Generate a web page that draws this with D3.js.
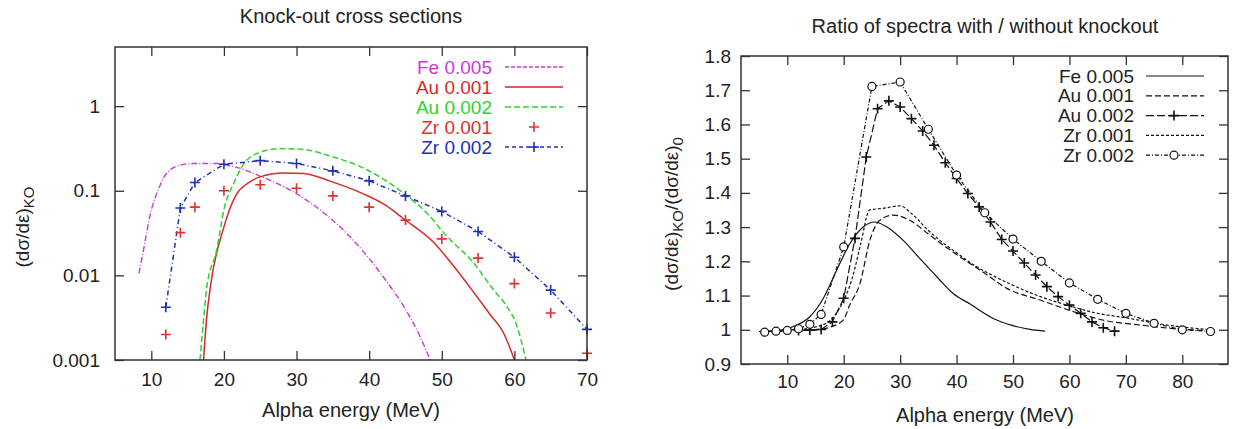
<!DOCTYPE html>
<html>
<head>
<meta charset="utf-8">
<script src="https://cdn.jsdelivr.net/npm/d3@7"></script>
<style>
  body { margin: 0; background: #fff; }
  svg text { font-family: "Liberation Sans", Arial, sans-serif; font-size: 19px; fill: #222; }
</style>
</head>
<body>
<div id="chart"></div>
<script>
// ---- left panel: knock-out cross sections (log y) ----
var koTicksX = [10, 20, 30, 40, 50, 60, 70];
var koTicksY = [0.001, 0.01, 0.1, 1];

var koFeX = [8.3, 9.1, 9.8, 11.1, 11.8, 13.9, 15.7, 19, 20.5, 22.2, 24.5, 29.3, 34.1, 35.5, 39.7, 42.4, 44.7, 47, 48.4];
var koFeY = [0.0105, 0.024, 0.05, 0.11, 0.148, 0.2, 0.21, 0.21, 0.2, 0.185, 0.155, 0.1, 0.052, 0.041, 0.017, 0.0085, 0.0044, 0.0019, 0.001];

var koAu1X = [17.2, 17.6, 18.2, 19.9, 21.7, 23.3, 24.9, 28.2, 31, 34.6, 39.2, 42.2, 44.7, 48.8, 51.6, 54.4, 56.7, 58.5, 60];
var koAu1Y = [0.001, 0.003, 0.008, 0.035, 0.09, 0.123, 0.145, 0.162, 0.16, 0.13, 0.092, 0.068, 0.047, 0.025, 0.013, 0.0063, 0.0034, 0.0021, 0.001];

var koAu2X = [16.7, 17.2, 17.6, 19, 20.1, 21.3, 22.6, 24.5, 27.7, 30.9, 34.6, 39.7, 42.4, 44.7, 47.9, 50.7, 54.4, 57.1, 58.8, 60.3, 61.6];
var koAu2Y = [0.001, 0.003, 0.0068, 0.02, 0.065, 0.12, 0.2, 0.275, 0.315, 0.308, 0.258, 0.177, 0.13, 0.094, 0.055, 0.029, 0.014, 0.0068, 0.0045, 0.0026, 0.001];

var koZrX = [12, 14, 16, 20, 25, 30, 35, 40, 45, 50, 55, 60, 65, 70];
var koZr1Y = [0.002, 0.032, 0.064, 0.1, 0.118, 0.107, 0.087, 0.064, 0.045, 0.027, 0.016, 0.008, 0.0036, 0.0012];
var koZr2Y = [0.0042, 0.0625, 0.125, 0.206, 0.227, 0.21, 0.172, 0.131, 0.087, 0.057, 0.033, 0.0164, 0.0067, 0.0023];

var koLabels = ["Fe 0.005", "Au 0.001", "Au 0.002", "Zr 0.001", "Zr 0.002"];
var koColors = ["#c83cd2", "#d42a2a", "#2ed22e", "#e03030", "#2030b4"];

// ---- right panel: ratio with / without knockout ----
var rtTicksX = [10, 20, 30, 40, 50, 60, 70, 80];
var rtTicksY = [0.9, 1, 1.1, 1.2, 1.3, 1.4, 1.5, 1.6, 1.7, 1.8];

var rtFeX = [5, 8, 11, 14, 16.4, 18.75, 21.1, 23.5, 25.5, 27.6, 30.5, 33.5, 36.5, 39.4, 42.4, 46.5, 50, 53, 55.7];
var rtFeY = [0.995, 0.997, 1.009, 1.038, 1.092, 1.174, 1.252, 1.301, 1.315, 1.301, 1.262, 1.208, 1.155, 1.106, 1.075, 1.033, 1.012, 1.001, 0.996];

var rtAu1X = [5, 10, 15, 18, 20, 21, 22.9, 24.65, 26.4, 28.8, 31.7, 35, 37, 40, 45, 48.9, 54.8, 60.7, 66.6, 72.5, 78, 84];
var rtAu1Y = [0.995, 0.997, 1.0, 1.01, 1.03, 1.07, 1.136, 1.262, 1.32, 1.335, 1.32, 1.28, 1.255, 1.22, 1.165, 1.121, 1.087, 1.053, 1.026, 1.014, 1.004, 0.998];

var rtAu2X = [12, 14, 16, 18, 20, 22, 24, 26, 28, 30, 32, 34, 36, 38, 40, 42, 44, 46, 48, 50, 52, 54, 56, 58, 60, 62, 64, 66, 68];
var rtAu2Y = [0.998, 0.999, 1.001, 1.023, 1.092, 1.267, 1.505, 1.646, 1.669, 1.651, 1.617, 1.581, 1.539, 1.488, 1.442, 1.398, 1.359, 1.315, 1.264, 1.23, 1.195, 1.16, 1.126, 1.097, 1.072, 1.048, 1.023, 1.006, 0.996];

var rtZr1X = [5, 10, 14, 17, 19.5, 21.5, 23, 24.6, 27, 30, 32, 35, 37, 40, 43, 46, 50, 55, 60, 65, 70, 75, 80, 85];
var rtZr1Y = [0.995, 0.998, 1.005, 1.02, 1.07, 1.15, 1.25, 1.35, 1.355, 1.362, 1.34, 1.29, 1.262, 1.225, 1.19, 1.162, 1.13, 1.096, 1.07, 1.048, 1.035, 1.02, 1.008, 1.0];

var rtZr2X = [6, 8, 10, 12, 14, 16, 20, 25, 30, 35, 40, 45, 50, 55, 60, 65, 70, 75, 80, 85];
var rtZr2Y = [0.993, 0.996, 0.998, 1.003, 1.016, 1.045, 1.242, 1.711, 1.724, 1.586, 1.452, 1.342, 1.265, 1.2, 1.137, 1.089, 1.048, 1.019, 1.0, 0.995];

var rtLabels = ["Fe 0.005", "Au 0.001", "Au 0.002", "Zr 0.001", "Zr 0.002"];

var W = 1235, H = 429;
var svg = d3.select("#chart").append("svg").attr("width", W).attr("height", H);
var fmt = d3.format("~g");
var plusPath = "M-5,0H5M0,-5V5";

function drawFrame(g, x, y, tx, ty, padX, padY) {
  var x0 = x.range()[0], x1 = x.range()[1], y0 = y.range()[1], y1 = y.range()[0];
  g.append("g").attr("transform", "translate(0," + y1 + ")")
    .call(d3.axisBottom(x).tickValues(tx).tickFormat(fmt).tickSizeInner(-9).tickSizeOuter(0).tickPadding(padX))
    .call(function(a) { a.select(".domain").remove(); });
  g.append("g").attr("transform", "translate(0," + y0 + ")")
    .call(d3.axisTop(x).tickValues(tx).tickFormat("").tickSizeInner(-9).tickSizeOuter(0))
    .call(function(a) { a.select(".domain").remove(); });
  g.append("g").attr("transform", "translate(" + x0 + ",0)")
    .call(d3.axisLeft(y).tickValues(ty).tickFormat(fmt).tickSizeInner(-9).tickSizeOuter(0).tickPadding(padY))
    .call(function(a) { a.select(".domain").remove(); });
  g.append("g").attr("transform", "translate(" + x1 + ",0)")
    .call(d3.axisRight(y).tickValues(ty).tickFormat("").tickSizeInner(-9).tickSizeOuter(0))
    .call(function(a) { a.select(".domain").remove(); });
  g.selectAll(".tick line").attr("stroke", "#333").attr("stroke-width", 1.3);
  g.selectAll(".tick text").attr("fill", "#222").style("font-size", "19px")
    .style("font-family", "'Liberation Sans', Arial, sans-serif");
  g.append("rect").attr("x", x0).attr("y", y0).attr("width", x1 - x0).attr("height", y1 - y0)
    .attr("fill", "none").attr("stroke", "#333").attr("stroke-width", 1.5);
}

// smooth = true for the computed curves, straight segments for linespoints
function series(g, x, y, xs, ys, color, dash, width, clipId, smooth) {
  var line = d3.line().x(function(d) { return x(d[0]); }).y(function(d) { return y(d[1]); });
  if (smooth) line.curve(d3.curveMonotoneX);
  g.append("path").datum(d3.zip(xs, ys))
    .attr("d", line)
    .attr("fill", "none")
    .attr("stroke", color)
    .attr("stroke-width", width)
    .attr("stroke-dasharray", dash)
    .attr("clip-path", "url(#" + clipId + ")");
}

function markers(g, x, y, xs, ys, color, kind) {
  var pts = d3.zip(xs, ys);
  if (kind == "plus") {
    g.selectAll(null).data(pts).enter().append("path")
      .attr("d", plusPath)
      .attr("transform", function(d) { return "translate(" + x(d[0]) + "," + y(d[1]) + ")"; })
      .attr("stroke", color).attr("stroke-width", 1.6).attr("fill", "none");
  } else {
    g.selectAll(null).data(pts).enter().append("circle")
      .attr("cx", function(d) { return x(d[0]); })
      .attr("cy", function(d) { return y(d[1]); })
      .attr("r", 4)
      .attr("stroke", color).attr("stroke-width", 1.2).attr("fill", "#fff");
  }
}

// ---------- left chart ----------
var xL = d3.scaleLinear().domain([5, 70]).range([115, 587]);
var yL = d3.scaleLog().domain([0.001, 5]).range([360, 47]);
var gL = svg.append("g");

svg.append("clipPath").attr("id", "clipL").append("rect")
  .attr("x", 115).attr("y", 47).attr("width", 472).attr("height", 313);

var koDash = ["6,2,1,2", null, "6,3", null, "5,3,1,3"];
series(gL, xL, yL, koFeX, koFeY, koColors[0], koDash[0], 1.4, "clipL", true);
series(gL, xL, yL, koAu1X, koAu1Y, koColors[1], null, 1.5, "clipL", true);
series(gL, xL, yL, koAu2X, koAu2Y, koColors[2], koDash[2], 1.5, "clipL", true);
series(gL, xL, yL, koZrX, koZr2Y, koColors[4], koDash[4], 1.5, "clipL", false);
markers(gL, xL, yL, koZrX, koZr1Y, koColors[3], "plus");
markers(gL, xL, yL, koZrX, koZr2Y, koColors[4], "plus");

drawFrame(gL, xL, yL, koTicksX, koTicksY, 13, 15);

svg.append("text").attr("x", 351).attr("y", 23).attr("text-anchor", "middle").style("font-size", "20px").text("Knock-out cross sections");
svg.append("text").attr("x", 351).attr("y", 417).attr("text-anchor", "middle").style("font-size", "20px").text("Alpha energy (MeV)");
var ylL = svg.append("text").attr("text-anchor", "middle")
  .attr("transform", "translate(29,227) rotate(-90)");
ylL.append("tspan").text("(d\u03c3/d\u03b5)");
ylL.append("tspan").attr("dy", 5).style("font-size", "15px").text("KO");

// legend
var legL = gL.append("g");
koLabels.forEach(function(lab, i) {
  var yy = 67 + i * 20;
  legL.append("text").attr("x", 492).attr("y", yy).attr("dy", "0.35em")
    .attr("text-anchor", "end").style("fill", koColors[i]).text(lab);
  if (i != 3) {
    legL.append("line").attr("x1", 505).attr("x2", 563).attr("y1", yy).attr("y2", yy)
      .attr("stroke", koColors[i]).attr("stroke-width", 1.5)
      .attr("stroke-dasharray", i == 0 ? "4,2" : (i == 2 ? "6,3" : (i == 4 ? "4,3" : null)));
  }
  if (i >= 3) {
    legL.append("path").attr("d", plusPath).attr("transform", "translate(534," + yy + ")")
      .attr("stroke", koColors[i]).attr("stroke-width", 1.6);
  }
});

// ---------- right chart ----------
var xR = d3.scaleLinear().domain([1.8, 88.1]).range([741, 1228]);
var yR = d3.scaleLinear().domain([0.9, 1.8]).range([364, 56]);
var gR = svg.append("g");

svg.append("clipPath").attr("id", "clipR").append("rect")
  .attr("x", 741).attr("y", 56).attr("width", 487).attr("height", 308);

var rtDash = [null, "6,3", "8,3", "3,2", "4,2,1,2"];
series(gR, xR, yR, rtFeX, rtFeY, "#111", rtDash[0], 1.2, "clipR", true);
series(gR, xR, yR, rtAu1X, rtAu1Y, "#111", rtDash[1], 1.2, "clipR", true);
series(gR, xR, yR, rtAu2X, rtAu2Y, "#111", rtDash[2], 1.2, "clipR", false);
series(gR, xR, yR, rtZr1X, rtZr1Y, "#111", rtDash[3], 1.2, "clipR", true);
series(gR, xR, yR, rtZr2X, rtZr2Y, "#111", rtDash[4], 1.2, "clipR", false);
markers(gR, xR, yR, rtAu2X, rtAu2Y, "#111", "plus");
markers(gR, xR, yR, rtZr2X, rtZr2Y, "#111", "circle");

drawFrame(gR, xR, yR, rtTicksX, rtTicksY, 11, 10);

svg.append("text").attr("x", 985).attr("y", 33).attr("text-anchor", "middle").style("font-size", "20px").text("Ratio of spectra with / without knockout");
svg.append("text").attr("x", 985).attr("y", 422).attr("text-anchor", "middle").style("font-size", "20px").text("Alpha energy (MeV)");
var ylR = svg.append("text").attr("text-anchor", "middle")
  .attr("transform", "translate(678,214) rotate(-90)");
ylR.append("tspan").text("(d\u03c3/d\u03b5)");
ylR.append("tspan").attr("dy", 5).style("font-size", "15px").text("KO");
ylR.append("tspan").attr("dy", -5).text("/(d\u03c3/d\u03b5)");
ylR.append("tspan").attr("dy", 5).style("font-size", "15px").text("0");

var legR = gR.append("g");
rtLabels.forEach(function(lab, i) {
  var yy = 76 + i * 19.8;
  legR.append("text").attr("x", 1134).attr("y", yy).attr("dy", "0.35em")
    .attr("text-anchor", "end").text(lab);
  legR.append("line").attr("x1", 1146).attr("x2", 1204).attr("y1", yy).attr("y2", yy)
    .attr("stroke", "#111").attr("stroke-width", 1.2).attr("stroke-dasharray", rtDash[i]);
  if (i == 2) {
    legR.append("path").attr("d", plusPath).attr("transform", "translate(1174," + yy + ")")
      .attr("stroke", "#111").attr("stroke-width", 1.6);
  }
  if (i == 4) {
    legR.append("circle").attr("cx", 1174).attr("cy", yy).attr("r", 4)
      .attr("stroke", "#111").attr("stroke-width", 1.2).attr("fill", "#fff");
  }
});
</script>
</body>
</html>
